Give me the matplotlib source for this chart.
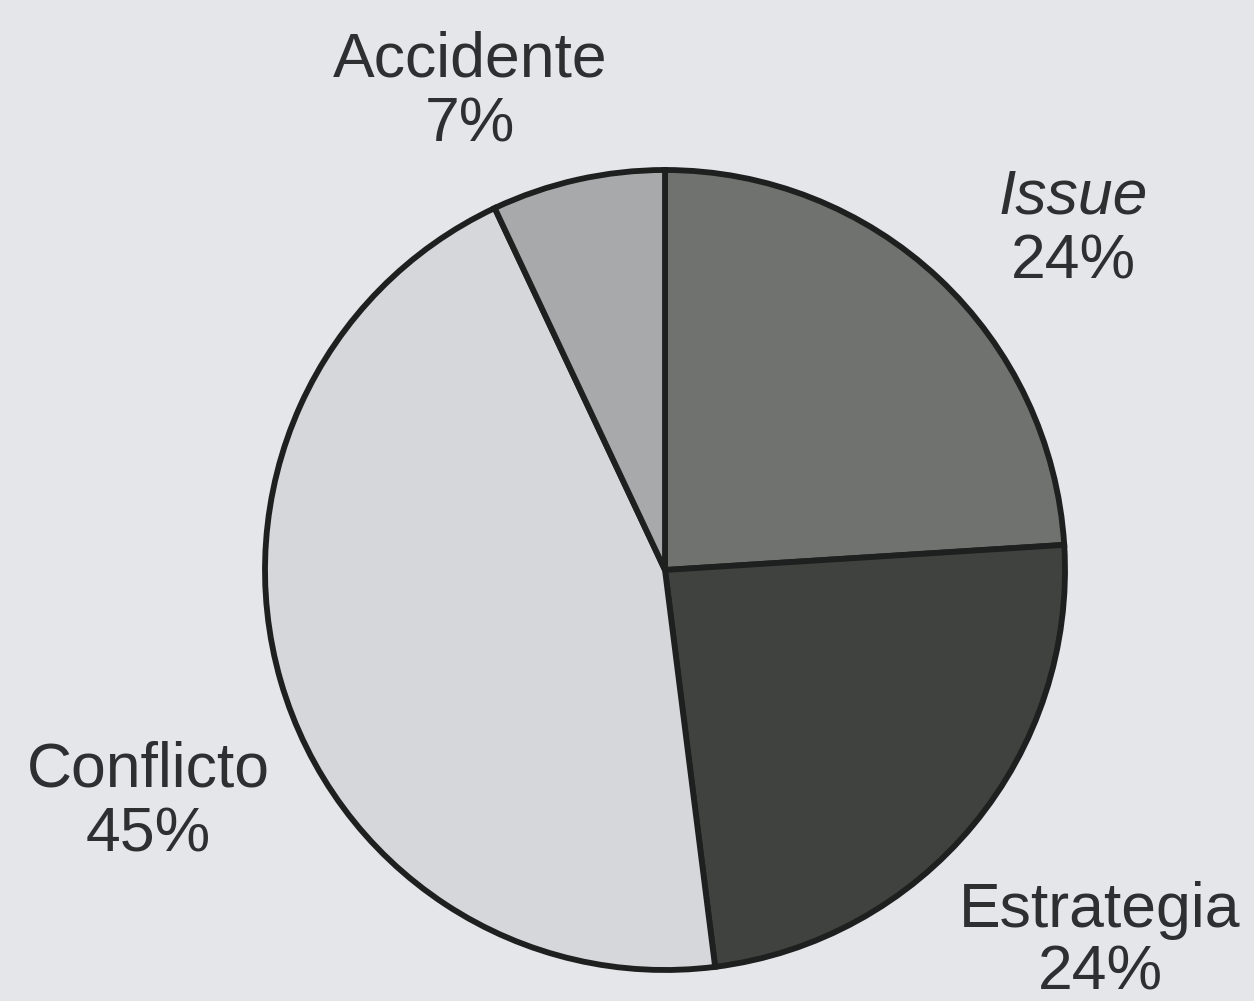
import matplotlib.pyplot as plt

# Share of news frames
categories = ['Issue', 'Estrategia', 'Conflicto', 'Accidente']
shares = [24, 24, 45, 7]
colors = ['#707270', '#404240', '#d6d7db', '#a8a9aa']

bg = '#e5e6ea'
ink = '#2e2f31'

fig = plt.figure(figsize=(12.54, 10.01), dpi=100, facecolor=bg)
ax = fig.add_axes([0, 0, 1, 1])
ax.set_facecolor(bg)
ax.set_xlim(0, 1254)
ax.set_ylim(0, 1001)
ax.set_aspect('equal')
ax.axis('off')

ax.pie(shares, colors=colors, startangle=90, counterclock=False,
       center=(665, 431), radius=400, frame=True,
       wedgeprops=dict(edgecolor='#1e1f1f', linewidth=4.2))
ax.set_xlim(0, 1254)
ax.set_ylim(0, 1001)
ax.axis('off')

# label name / percentage placed around the pie
label_pos = {
    'Issue': (1073, 804, 739),
    'Estrategia': (1100, 91, 28),
    'Conflicto': (148, 231, 166),
    'Accidente': (470, 941, 876),
}
for name, val in zip(categories, shares):
    x, y1, y2 = label_pos[name]
    style = 'italic' if name == 'Issue' else 'normal'
    ax.text(x, y1, name, ha='center', va='center', fontsize=45,
            family='Liberation Sans', style=style, color=ink)
    ax.text(x, y2, f'{val}%', ha='center', va='center', fontsize=45,
            family='Liberation Sans', color=ink)

fig.savefig('out.png', dpi=100, facecolor=bg)
